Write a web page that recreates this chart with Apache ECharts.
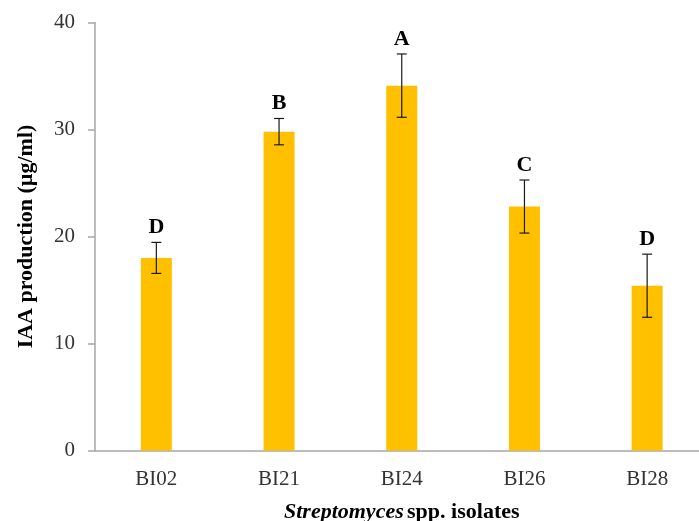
<!DOCTYPE html>
<html><head><meta charset="utf-8">
<script src="https://cdn.jsdelivr.net/npm/echarts@6/dist/echarts.min.js"></script>
<style>html,body{margin:0;padding:0;background:#fff}#c{width:699px;height:521px}</style>
</head><body><div id="c"></div>
<script>
var categories = ['BI02', 'BI21', 'BI24', 'BI26', 'BI28'];
var values = [18.0, 29.8, 34.1, 22.8, 15.4];
var errors = [1.45, 1.23, 2.96, 2.48, 2.95];
var letters = ['D', 'B', 'A', 'C', 'D'];
var yTicks = [0, 10, 20, 30, 40];

var FONT = '"Liberation Serif", "Times New Roman", serif';
var chart = echarts.init(document.getElementById('c'), null, {renderer: 'canvas'});
var errData = categories.map(function (c, i) { return [i, values[i], errors[i]]; });

chart.setOption({
  animation: false,
  grid: {left: 95, top: 22.5, right: -9.5, bottom: 70.5, containLabel: false, outerBoundsMode: 'none'},
  xAxis: {
    type: 'category', data: categories,
    axisLine: {lineStyle: {color: '#a6a6a6', width: 1.5}},
    axisTick: {show: false},
    axisLabel: {fontFamily: FONT, fontSize: 21, color: '#333', margin: 18},
    name: '{i|Streptomyces} {b|spp. isolates}',
    nameLocation: 'middle', nameGap: 51,
    nameTextStyle: {
      rich: {
        i: {fontFamily: FONT, fontSize: 22, fontWeight: 'bold', fontStyle: 'italic', color: '#000'},
        b: {fontFamily: FONT, fontSize: 22, fontWeight: 'bold', color: '#000'}
      }
    }
  },
  yAxis: {
    type: 'value', min: 0, max: 40, interval: 10,
    axisLine: {show: true, lineStyle: {color: '#a6a6a6', width: 1.5}},
    axisTick: {show: true, length: 7, lineStyle: {color: '#a6a6a6', width: 1.5}},
    splitLine: {show: false},
    axisLabel: {fontFamily: FONT, fontSize: 21, color: '#333', margin: 20,
      formatter: function (v) { return yTicks.indexOf(v) >= 0 ? String(v) : ''; }},
    name: 'IAA production (µg/ml)', nameLocation: 'middle', nameGap: 58, nameRotate: 90,
    nameTextStyle: {fontFamily: FONT, fontSize: 22, fontWeight: 'bold', color: '#000'}
  },
  series: [
    {
      type: 'bar', data: values, barWidth: 31,
      itemStyle: {color: '#FFC000'}
    },
    {
      type: 'custom', data: errData, z: 10,
      renderItem: function (params, api) {
        var x = api.value(0), v = api.value(1), e = api.value(2);
        var top = api.coord([x, v + e]);
        var bot = api.coord([x, v - e]);
        var hw = 5;
        var s = {stroke: '#1a1a1a', lineWidth: 1.2};
        return {
          type: 'group',
          children: [
            {type: 'line', shape: {x1: top[0], y1: top[1], x2: bot[0], y2: bot[1]}, style: s},
            {type: 'line', shape: {x1: top[0] - hw, y1: top[1], x2: top[0] + hw, y2: top[1]}, style: s},
            {type: 'line', shape: {x1: bot[0] - hw, y1: bot[1], x2: bot[0] + hw, y2: bot[1]}, style: s},
            {type: 'text', x: top[0], y: top[1] - 4,
              style: {text: letters[params.dataIndex], fontFamily: FONT, fontSize: 22, fontWeight: 'bold',
                fill: '#000', textAlign: 'center', textVerticalAlign: 'bottom'}}
          ]
        };
      }
    }
  ]
});
</script></body></html>
